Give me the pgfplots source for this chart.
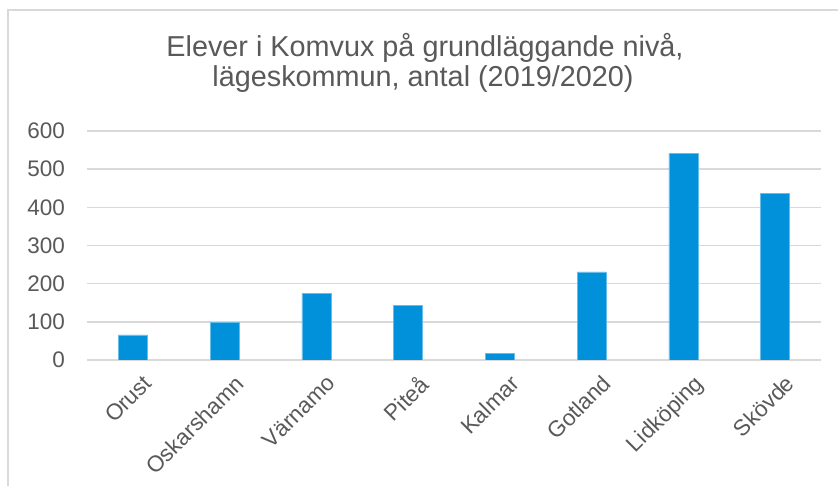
\documentclass[border=0pt]{standalone}
\usepackage{fontspec}
\setmainfont{Liberation Sans}
\usepackage{pgfplots}
\pgfplotsset{compat=1.18}
\definecolor{barblue}{HTML}{0091DA}
\definecolor{txtgray}{HTML}{595959}
\definecolor{gridgray}{HTML}{D9D9D9}
\begin{document}
\begin{tikzpicture}
\useasboundingbox (0,0) rectangle (838pt,486pt);
\draw[gridgray, line width=1.5pt] (8pt,0) -- (8pt,476pt) -- (845pt,476pt);
\node[txtgray, font=\fontsize{28.8}{33}\selectfont, anchor=base, inner sep=0pt]
  at (425pt,429pt) {Elever i Komvux på grundläggande nivå,};
\node[txtgray, font=\fontsize{28.8}{33}\selectfont, anchor=base, inner sep=0pt]
  at (423pt,399pt) {lägeskommun, antal (2019/2020)};
\begin{axis}[at={(87pt,126pt)}, anchor=south west, scale only axis,
  width=734pt, height=229pt,
  xmin=-0.5, xmax=7.5, ymin=0, ymax=600,
  ytick={0,100,...,600},
  xtick={0,...,7},
  xticklabels={Orust,Oskarshamn,Värnamo,Piteå,Kalmar,Gotland,Lidköping,Skövde},
  axis lines*=left,
  x axis line style={gridgray, line width=1.5pt},
  y axis line style={draw=none},
  major tick length=0pt,
  ymajorgrids, grid style={gridgray, line width=1.5pt},
  tick label style={font=\fontsize{22.5}{26}\selectfont, text=txtgray},
  /pgf/number format/assume math mode=true,
  yticklabel style={anchor=east, inner sep=0pt, xshift=-22pt},
  xticklabel style={rotate=45, anchor=north east, inner sep=0pt, xshift=-3pt, yshift=-16pt},
  ybar, bar width=29pt]
\addplot[fill=barblue, draw=barblue!60!white, line width=0.6pt]
  coordinates {(0,66)(1,98)(2,174)(3,143)(4,17)(5,231)(6,541)(7,437)};
\end{axis}
\end{tikzpicture}
\end{document}
